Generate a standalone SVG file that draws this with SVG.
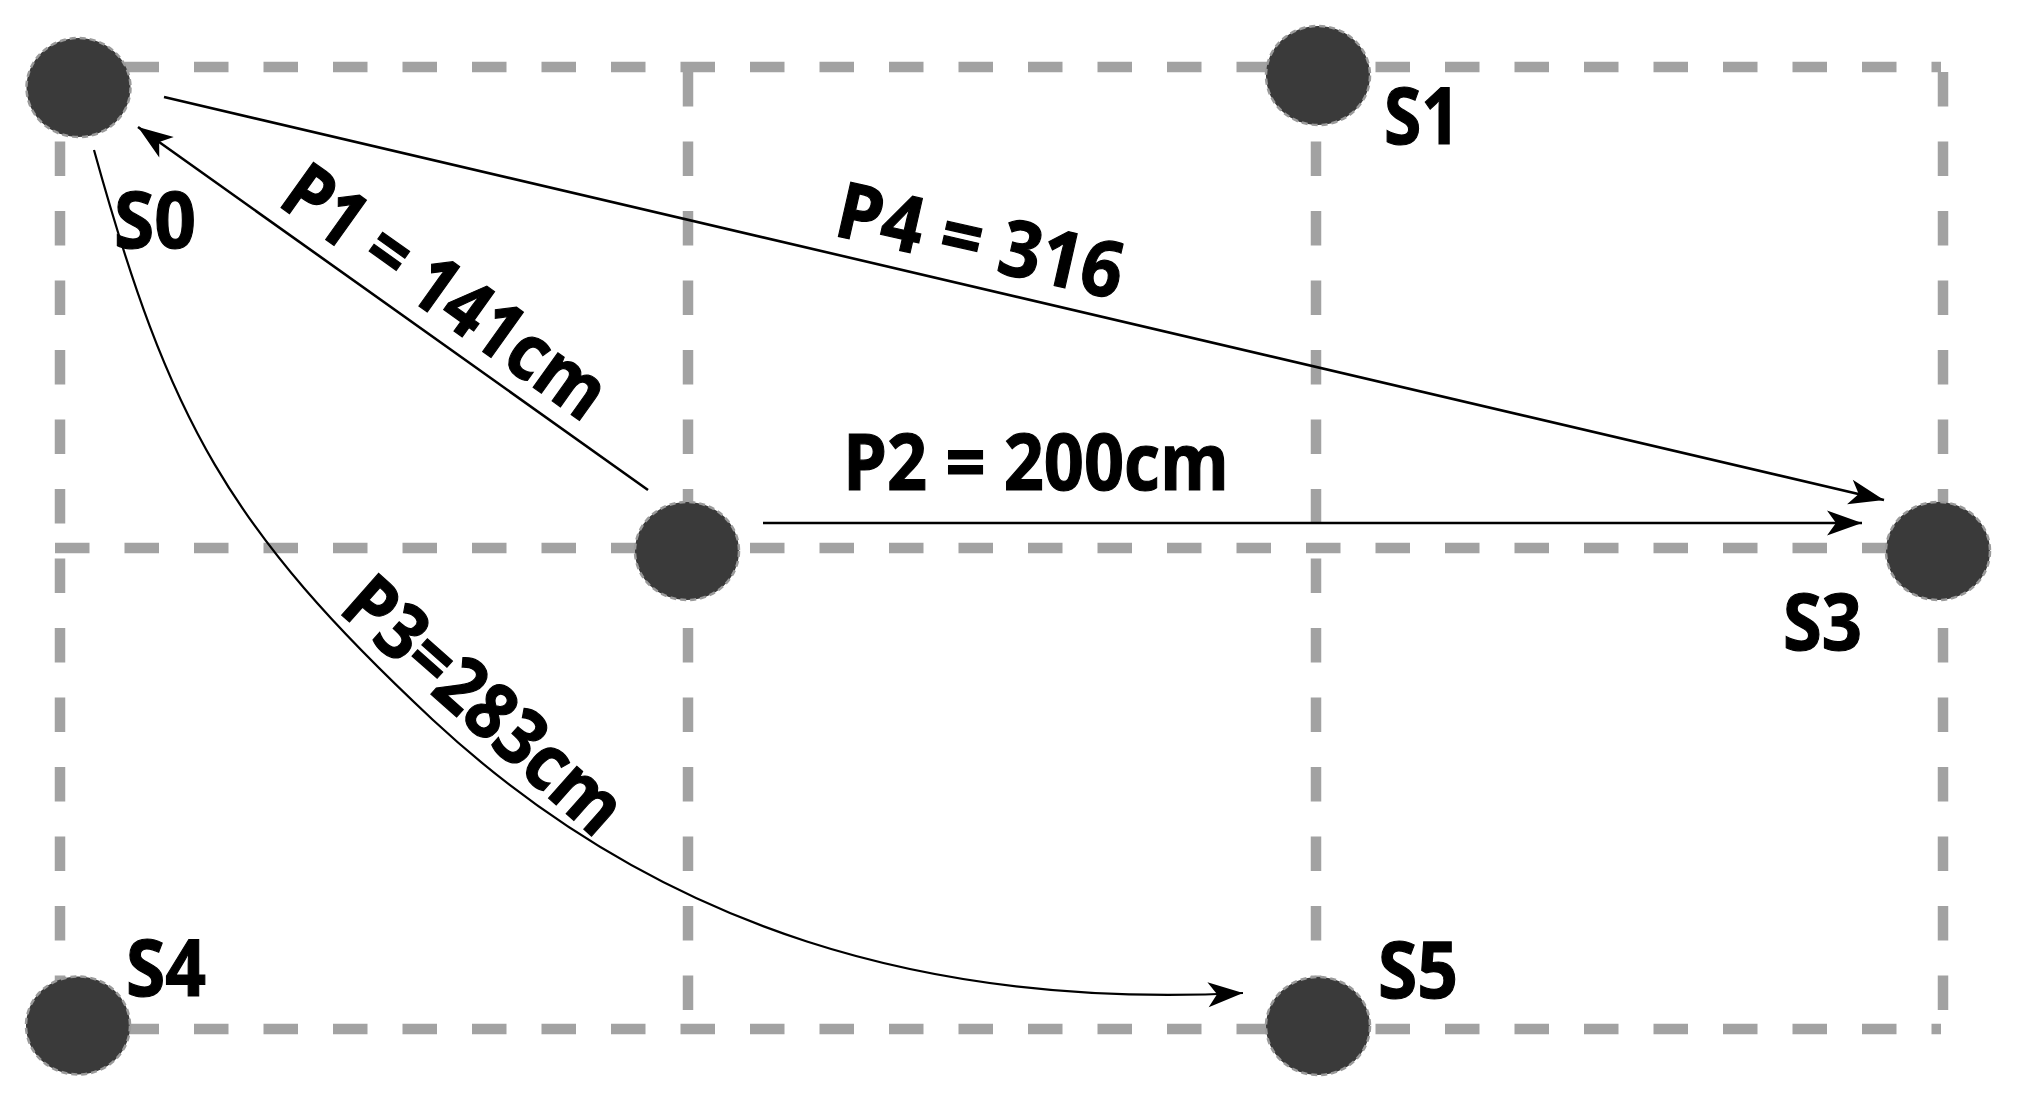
<svg xmlns="http://www.w3.org/2000/svg" width="2017" height="1102" viewBox="0 0 2017 1102">
<style>
.grid{stroke:#a2a2a2;stroke-width:10.5;stroke-dasharray:34.5 35;fill:none}
.node{fill:#3a3a3a;stroke:#9a9a9a;stroke-width:2.5;stroke-dasharray:6 4}
.conn{fill:none;stroke:#000;stroke-width:2.6;marker-end:url(#arrow)}
.lbl{font-family:"Open Sans","Liberation Sans",sans-serif;font-weight:700;font-size:78px;fill:#000;stroke:#000;stroke-width:1.2}
</style>
<defs>
<marker id="arrow" markerUnits="userSpaceOnUse" markerWidth="38" markerHeight="28" viewBox="-36 -14 38 28" refX="0" refY="0" orient="auto">
<path d="M0,0 L-35,-12.5 L-26,0 L-35,12.5 Z" fill="#000"/>
</marker>
</defs>
<rect width="2017" height="1102" fill="#fff"/>
<g id="grid">
<line class="grid" x1="55" y1="67" x2="1941" y2="67"/>
<line class="grid" x1="55" y1="548" x2="1941" y2="548"/>
<line class="grid" x1="55" y1="1029" x2="1941" y2="1029"/>
<line class="grid" x1="60" y1="72" x2="60" y2="1029"/>
<line class="grid" x1="688" y1="72" x2="688" y2="1029"/>
<line class="grid" x1="1316" y1="72" x2="1316" y2="1029"/>
<line class="grid" x1="1943" y1="72" x2="1943" y2="1029"/>
</g>
<g id="connectors">
<line id="p1" class="conn" x1="648" y1="490" x2="138" y2="127"/>
<line id="p2" class="conn" x1="763" y1="523" x2="1862" y2="523"/>
<line id="p4" class="conn" x1="164" y1="97" x2="1884" y2="500"/>
<path id="p3" class="conn" style="stroke-width:2.2" d="M94,150 C168.8,420 228.3,529 433,720 C660,931 933,1008.5 1243,993"/>
</g>
<g id="S0"><ellipse class="node" cx="78.5" cy="87.5" rx="52" ry="49.5"/><text class="lbl" x="114" y="248" textLength="82" lengthAdjust="spacingAndGlyphs">S0</text></g>
<g id="S1"><ellipse class="node" cx="1318" cy="75.5" rx="52" ry="49.5"/><text class="lbl" x="1384" y="144" textLength="76" lengthAdjust="spacingAndGlyphs">S1</text></g>
<g id="S2"><ellipse class="node" cx="687" cy="551" rx="52" ry="49"/></g>
<g id="S3"><ellipse class="node" cx="1938" cy="551" rx="52" ry="49"/><text class="lbl" x="1783" y="650" textLength="79" lengthAdjust="spacingAndGlyphs">S3</text></g>
<g id="S4"><ellipse class="node" cx="78" cy="1025.5" rx="52" ry="49"/><text class="lbl" x="126" y="996" textLength="80" lengthAdjust="spacingAndGlyphs">S4</text></g>
<g id="S5"><ellipse class="node" cx="1318" cy="1026" rx="52" ry="49"/><text class="lbl" x="1378" y="998" textLength="80" lengthAdjust="spacingAndGlyphs">S5</text></g>
<g id="labels">
<text class="lbl" x="843" y="490" textLength="386" lengthAdjust="spacingAndGlyphs">P2 = 200cm</text>
<text class="lbl" transform="translate(276,204) rotate(35.5)" textLength="378" lengthAdjust="spacingAndGlyphs">P1 = 141cm</text>
<text class="lbl" transform="translate(832,235) rotate(12.8)" textLength="292" lengthAdjust="spacingAndGlyphs">P4 = 316</text>
<text class="lbl" transform="translate(337,611) rotate(41.5)" textLength="345" lengthAdjust="spacingAndGlyphs">P3=283cm</text>
</g>
</svg>
